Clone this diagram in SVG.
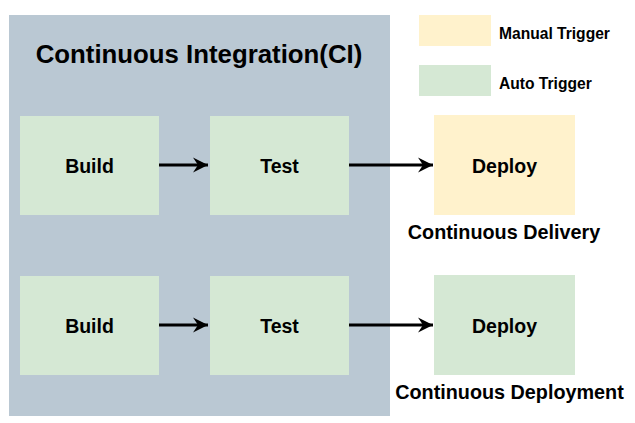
<svg xmlns="http://www.w3.org/2000/svg" width="635" height="423" viewBox="0 0 635 423">
<style>
.t{font-family:"Liberation Sans",Arial,sans-serif;font-weight:bold;fill:#000;}
.g{fill:#d5e8d4;}
.y{fill:#fff2cc;}
.lbl{font-size:19.5px;text-anchor:middle;}
.cap{font-size:19.8px;text-anchor:middle;}
.leg{font-size:15.6px;}
.c{stroke:#000;stroke-width:3;fill:none;}
</style>
<defs>
<marker id="ah" markerUnits="userSpaceOnUse" markerWidth="16" markerHeight="16" viewBox="0 0 16 16" refX="15" refY="8" orient="auto">
<path d="M0,0.5 L15,8 L0,15.5 L5,8 Z" fill="#000"/>
</marker>
</defs>
<rect width="635" height="423" fill="#fff"/>
<g id="ci-group">
<rect x="9" y="15" width="381" height="401" fill="#bac8d3"/>
<text class="t" x="199" y="63" font-size="25.8" text-anchor="middle">Continuous Integration(CI)</text>
</g>
<g id="legend-manual">
<rect class="y" x="419" y="15" width="72" height="31"/>
<text class="t leg" x="499" y="38.5">Manual Trigger</text>
</g>
<g id="legend-auto">
<rect class="g" x="419" y="65" width="72" height="31"/>
<text class="t leg" x="499" y="88.5">Auto Trigger</text>
</g>
<g id="build1">
<rect class="g" x="20" y="116" width="139" height="99"/>
<text class="t lbl" x="89.5" y="172.5">Build</text>
</g>
<g id="test1">
<rect class="g" x="210" y="116" width="139" height="99"/>
<text class="t lbl" x="279.5" y="172.5">Test</text>
</g>
<g id="deploy1">
<rect class="y" x="434" y="115" width="141" height="100"/>
<text class="t lbl" x="504.5" y="172.5">Deploy</text>
<text class="t cap" x="504" y="238.5">Continuous Delivery</text>
</g>
<g id="build2">
<rect class="g" x="20" y="276" width="139" height="99"/>
<text class="t lbl" x="89.5" y="332.5">Build</text>
</g>
<g id="test2">
<rect class="g" x="210" y="276" width="139" height="99"/>
<text class="t lbl" x="279.5" y="332.5">Test</text>
</g>
<g id="deploy2">
<rect class="g" x="434" y="275" width="141" height="100"/>
<text class="t lbl" x="504.5" y="332.5">Deploy</text>
<text class="t cap" x="509.5" y="398.5">Continuous Deployment</text>
</g>
<g id="connectors">
<line class="c" x1="159" y1="165" x2="208" y2="165" marker-end="url(#ah)"/>
<line class="c" x1="349" y1="165" x2="433" y2="165" marker-end="url(#ah)"/>
<line class="c" x1="159" y1="325" x2="208" y2="325" marker-end="url(#ah)"/>
<line class="c" x1="349" y1="325" x2="433" y2="325" marker-end="url(#ah)"/>
</g>
</svg>
